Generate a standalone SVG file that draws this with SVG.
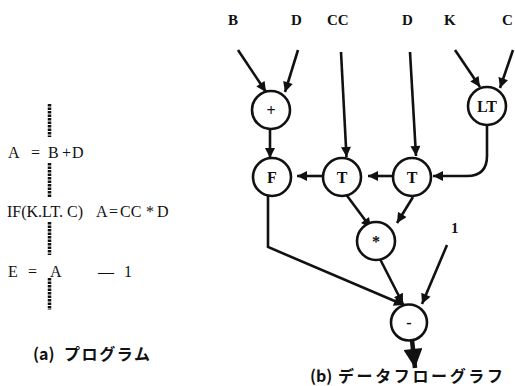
<svg xmlns="http://www.w3.org/2000/svg" width="515" height="386" viewBox="0 0 515 386">
  <style>
    .lbl { font-family: "Liberation Serif", "Times New Roman", serif; font-size: 15px; font-weight: bold; fill: #111; }
    .prog { font-family: "Liberation Serif", "Times New Roman", serif; font-size: 16px; fill: #111; }
    .node circle { fill: #fff; stroke: #111; stroke-width: 2.6; }
    .node text { font-family: "Liberation Serif", "Times New Roman", serif; font-size: 16px; font-weight: bold; fill: #111; text-anchor: middle; }
    .edge { fill: none; stroke: #111; stroke-width: 2.6; marker-end: url(#ah); }
    .bar { stroke: #111; stroke-width: 3.5; stroke-dasharray: 2.5 1; }
    .cap { font-family: "Noto Sans CJK JP", "Noto Sans", sans-serif; font-size: 16px; font-weight: bold; fill: #111; }
  </style>
  <defs>
    <marker id="ah" viewBox="0 0 10 10" refX="10" refY="5" markerUnits="userSpaceOnUse" markerWidth="11" markerHeight="10" orient="auto">
      <path d="M0,0 L10,5 L0,10 z" fill="#111"/>
    </marker>
    <marker id="ahBig" viewBox="0 0 10 10" refX="10" refY="5" markerUnits="userSpaceOnUse" markerWidth="21" markerHeight="19" orient="auto">
      <path d="M0,0 L10,5 L0,10 z" fill="#111"/>
    </marker>
  </defs>
  <rect width="515" height="386" fill="#fff"/>

  <!-- (a) program listing -->
  <g id="program">
    <line class="bar" x1="49.5" y1="104" x2="49.5" y2="137"/>
    <line class="bar" x1="49.5" y1="163" x2="49.5" y2="198"/>
    <line class="bar" x1="49.5" y1="222" x2="49.5" y2="255"/>
    <line class="bar" x1="49.5" y1="278" x2="49.5" y2="310"/>
    <text class="prog" x="8" y="158">A</text>
    <text class="prog" x="31" y="158">=</text>
    <text class="prog" x="48" y="158">B</text>
    <text class="prog" x="62" y="158">+</text>
    <text class="prog" x="72" y="158">D</text>
    <text class="prog" x="7" y="217">IF(K.LT. C)</text>
    <text class="prog" x="96" y="217">A</text>
    <text class="prog" x="109" y="217">=</text>
    <text class="prog" x="120" y="217">CC</text>
    <text class="prog" x="146" y="217">*</text>
    <text class="prog" x="157" y="217">D</text>
    <text class="prog" x="8" y="277">E</text>
    <text class="prog" x="28" y="277">=</text>
    <text class="prog" x="50" y="277">A</text>
    <text class="prog" x="98" y="277">—</text>
    <text class="prog" x="124" y="277">1</text>
  </g>

  <!-- (b) data flow graph: input labels -->
  <g id="inputs">
    <text class="lbl" x="228" y="25">B</text>
    <text class="lbl" x="291" y="25">D</text>
    <text class="lbl" x="327" y="25">CC</text>
    <text class="lbl" x="402" y="25">D</text>
    <text class="lbl" x="444" y="25">K</text>
    <text class="lbl" x="502" y="25">C</text>
    <text class="lbl" x="451" y="233">1</text>
  </g>

  <!-- connectors -->
  <g id="connectors">
    <line class="edge" x1="238" y1="50" x2="266" y2="92"/>
    <line class="edge" x1="298" y1="50" x2="285" y2="92"/>
    <line class="edge" x1="341" y1="52" x2="346.5" y2="157"/>
    <line class="edge" x1="410" y1="52" x2="416" y2="156"/>
    <line class="edge" x1="455" y1="50" x2="480" y2="87"/>
    <line class="edge" x1="513" y1="50" x2="500" y2="88"/>
    <line class="edge" x1="270" y1="129" x2="270" y2="158"/>
    <path class="edge" d="M487,125 V156 Q487,176 467,176 H433"/>
    <line class="edge" x1="393" y1="176" x2="368" y2="176"/>
    <line class="edge" x1="323" y1="176" x2="297" y2="176"/>
    <line class="edge" x1="345" y1="193" x2="371" y2="228"/>
    <line class="edge" x1="413" y1="197" x2="397" y2="223"/>
    <path class="edge" d="M268,195 V247 L404,305"/>
    <line class="edge" x1="380" y1="259" x2="403" y2="304"/>
    <line class="edge" x1="447" y1="245" x2="422" y2="304"/>
    <line x1="412" y1="340" x2="415" y2="368" stroke="#111" stroke-width="4.5" marker-end="url(#ahBig)"/>
  </g>

  <!-- operator nodes -->
  <g id="n-plus" class="node"><circle cx="271" cy="110" r="19"/><text x="271" y="116">+</text></g>
  <g id="n-F" class="node"><circle cx="272" cy="177" r="19"/><text x="272" y="183">F</text></g>
  <g id="n-T1" class="node"><circle cx="342" cy="177" r="19"/><text x="342" y="183">T</text></g>
  <g id="n-T2" class="node"><circle cx="412" cy="177" r="19"/><text x="412" y="183">T</text></g>
  <g id="n-LT" class="node"><circle cx="487" cy="106" r="19"/><text x="487" y="112">LT</text></g>
  <g id="n-mul" class="node"><circle cx="376" cy="241" r="19"/><text x="376" y="247">*</text></g>
  <g id="n-sub" class="node"><circle cx="409" cy="322.5" r="18"/><text x="409" y="328">-</text></g>

  <!-- captions -->
  <g id="captions">
    <text class="cap" x="33" y="360" font-size="12">(a)</text>
    <text class="cap" x="64" y="360" textLength="86" lengthAdjust="spacing">プログラム</text>
    <text class="cap" x="310" y="382" font-size="12">(b)</text>
    <text class="cap" x="338" y="382" textLength="165" lengthAdjust="spacing">データフローグラフ</text>
  </g>
</svg>
